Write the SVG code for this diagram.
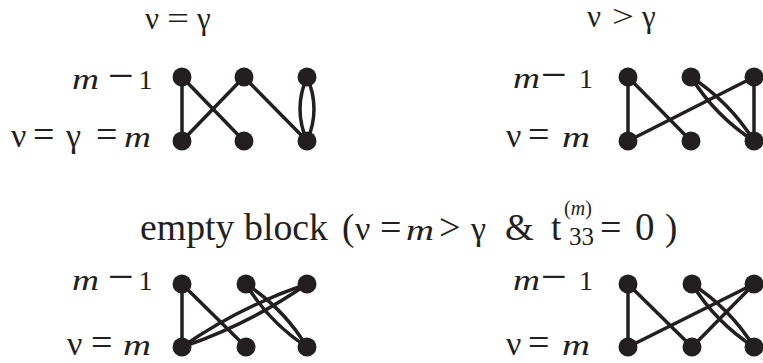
<svg xmlns="http://www.w3.org/2000/svg" width="763" height="363" viewBox="0 0 763 363">
<style>
text{font-family:"Liberation Serif","Times New Roman",serif;fill:#231f20}
.g{font-size:34px}
.gt{font-size:34px}
.tt{font-size:31px}
.op{font-size:38px}
.mn{font-size:46px}
.d{font-size:28px}
.mi{font-style:italic;font-size:30px}
.t{font-size:37px}
.e{fill:none;stroke:#231f20;stroke-width:3.5;stroke-linecap:round}
.n{fill:#231f20}
</style>
<rect width="763" height="363" fill="#fff"/>

<g id="title-top-left">
<text class="tt" x="145" y="29">ν</text><text class="tt" x="167" y="29" textLength="22" lengthAdjust="spacingAndGlyphs">=</text><text class="tt" x="197" y="29">γ</text>
</g>
<g id="title-top-right">
<text class="tt" x="587" y="27">ν</text><text class="tt" x="612" y="27" textLength="22" lengthAdjust="spacingAndGlyphs">&gt;</text><text class="tt" x="642" y="27">γ</text>
</g>
<g id="title-bottom">
<text class="t" x="140" y="240" textLength="188" lengthAdjust="spacingAndGlyphs">empty block</text>
<text class="t" x="342" y="240">(</text>
<text class="gt" x="355" y="240">ν</text>
<text class="op" x="380" y="240">=</text>
<text class="mi" x="406" y="240" textLength="28" lengthAdjust="spacingAndGlyphs">m</text>
<text class="op" x="439" y="240">&gt;</text>
<text class="gt" x="471" y="240">γ</text>
<text class="t" x="505" y="240">&amp;</text>
<text class="t" x="551" y="240">t</text>
<text x="564" y="215" style="font-size:20px">(<tspan font-style="italic">m</tspan>)</text>
<text x="569" y="245" style="font-size:25px">33</text>
<text class="op" x="600" y="240">=</text>
<text style="font-size:39px" x="635" y="240">0</text>
<text class="t" x="665" y="240">)</text>
</g>

<g id="labels-top-left">
<text class="mi" x="72" y="89" textLength="27" lengthAdjust="spacingAndGlyphs">m</text>
<text class="mn" x="108" y="91">−</text>
<text class="d" x="138.5" y="89">1</text>
<text class="g" x="11" y="147">ν</text>
<text class="op" x="33" y="147">=</text>
<text class="g" x="66" y="147">γ</text>
<text class="op" x="96" y="147">=</text>
<text class="mi" x="124" y="147" textLength="27" lengthAdjust="spacingAndGlyphs">m</text>
</g>
<g id="labels-top-right">
<text class="mi" x="513" y="88" textLength="27" lengthAdjust="spacingAndGlyphs">m</text>
<text class="mn" x="541" y="90">−</text>
<text class="d" x="579" y="88">1</text>
<text class="g" x="506" y="147">ν</text>
<text class="op" x="528" y="147">=</text>
<text class="mi" x="562" y="147" textLength="28" lengthAdjust="spacingAndGlyphs">m</text>
</g>
<g id="labels-bottom-left">
<text class="mi" x="72" y="290" textLength="27" lengthAdjust="spacingAndGlyphs">m</text>
<text class="mn" x="108" y="292">−</text>
<text class="d" x="138.5" y="290">1</text>
<text class="g" x="67" y="355">ν</text>
<text class="op" x="91" y="355">=</text>
<text class="mi" x="123" y="355" textLength="28" lengthAdjust="spacingAndGlyphs">m</text>
</g>
<g id="labels-bottom-right">
<text class="mi" x="513" y="290" textLength="27" lengthAdjust="spacingAndGlyphs">m</text>
<text class="mn" x="541" y="292">−</text>
<text class="d" x="579" y="290">1</text>
<text class="g" x="506" y="355">ν</text>
<text class="op" x="528" y="355">=</text>
<text class="mi" x="562" y="355" textLength="28" lengthAdjust="spacingAndGlyphs">m</text>
</g>

<g id="connectors">
<path class="e" d="M182 77V141"/>
<path class="e" d="M182 77L244 141"/>
<path class="e" d="M182 141L244 77"/>
<path class="e" d="M244 77L307 141"/>
<path class="e" d="M307 77Q293 109 307 141"/>
<path class="e" d="M307 77Q321 109 307 141"/>
<path class="e" d="M628 77V141"/>
<path class="e" d="M628 77L691 141"/>
<path class="e" d="M628 141L754 77"/>
<path class="e" d="M754 77V141"/>
<path class="e" d="M691 77Q729.6 102 754 141"/>
<path class="e" d="M691 77Q715.4 116 754 141"/>
<path class="e" d="M182 284V347"/>
<path class="e" d="M182 284L246 347"/>
<path class="e" d="M182 347Q249 324.4 307 284"/>
<path class="e" d="M182 347Q240 306.6 307 284"/>
<path class="e" d="M246 284Q283.7 308.5 307 347"/>
<path class="e" d="M246 284Q269.3 322.5 307 347"/>
<path class="e" d="M628 284V347"/>
<path class="e" d="M628 284L692 347"/>
<path class="e" d="M628 347L754 284"/>
<path class="e" d="M692 347L754 284"/>
<path class="e" d="M692 284Q730.1 308.5 754 347"/>
<path class="e" d="M692 284Q715.9 322.5 754 347"/>
</g>

<g id="p1-nodes">
<circle id="p1-t1" class="n" cx="182" cy="77" r="9.5"/><circle id="p1-t2" class="n" cx="244" cy="77" r="9.5"/><circle id="p1-t3" class="n" cx="307" cy="77" r="9.5"/>
<circle id="p1-b1" class="n" cx="182" cy="141" r="9.5"/><circle id="p1-b2" class="n" cx="244" cy="141" r="9.5"/><circle id="p1-b3" class="n" cx="307" cy="141" r="9.5"/>
</g>
<g id="p2-nodes">
<circle id="p2-t1" class="n" cx="628" cy="77" r="9.5"/><circle id="p2-t2" class="n" cx="691" cy="77" r="9.5"/><circle id="p2-t3" class="n" cx="754" cy="77" r="9.5"/>
<circle id="p2-b1" class="n" cx="628" cy="141" r="9.5"/><circle id="p2-b2" class="n" cx="691" cy="141" r="9.5"/><circle id="p2-b3" class="n" cx="754" cy="141" r="9.5"/>
</g>
<g id="p3-nodes">
<circle id="p3-t1" class="n" cx="182" cy="284" r="9.5"/><circle id="p3-t2" class="n" cx="246" cy="284" r="9.5"/><circle id="p3-t3" class="n" cx="307" cy="284" r="9.5"/>
<circle id="p3-b1" class="n" cx="182" cy="347" r="9.5"/><circle id="p3-b2" class="n" cx="246" cy="347" r="9.5"/><circle id="p3-b3" class="n" cx="307" cy="347" r="9.5"/>
</g>
<g id="p4-nodes">
<circle id="p4-t1" class="n" cx="628" cy="284" r="9.5"/><circle id="p4-t2" class="n" cx="692" cy="284" r="9.5"/><circle id="p4-t3" class="n" cx="754" cy="284" r="9.5"/>
<circle id="p4-b1" class="n" cx="628" cy="347" r="9.5"/><circle id="p4-b2" class="n" cx="692" cy="347" r="9.5"/><circle id="p4-b3" class="n" cx="754" cy="347" r="9.5"/>
</g>
</svg>
